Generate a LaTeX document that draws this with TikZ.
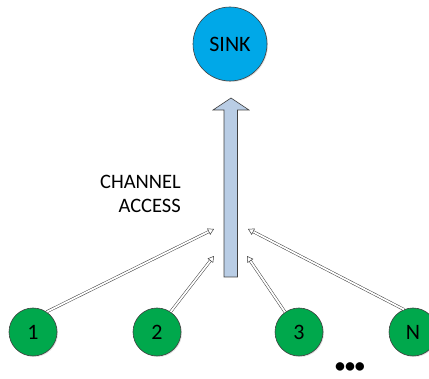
\documentclass[tikz,border=0pt]{standalone}
\usepackage{fontspec}
\setmainfont{Carlito}
\usetikzlibrary{arrows.meta,shadows}
\definecolor{sinkblue}{RGB}{0,168,232}
\definecolor{nodegreen}{RGB}{0,168,76}
\definecolor{shaftblue}{RGB}{185,205,229}
\definecolor{edgegray}{RGB}{64,64,64}
\begin{document}
\begin{tikzpicture}[x=1pt,y=-1pt,
  sinknode/.style={circle, draw=edgegray, line width=0.6pt, fill=sinkblue, minimum size=74pt, inner sep=0pt, font=\fontsize{22}{24}\selectfont,
    drop shadow={opacity=0.25, shadow xshift=1pt, shadow yshift=-1pt}},
  srcnode/.style={circle, draw=edgegray, line width=0.6pt, fill=nodegreen, minimum size=48pt, inner sep=0pt, font=\fontsize{22}{24}\selectfont,
    drop shadow={opacity=0.25, shadow xshift=1pt, shadow yshift=-1pt}},
  access/.style={draw=edgegray, line width=0.5pt, double=white, double distance=1.8pt, -{Stealth[open, length=6pt, width=7pt, inset=0pt]}},
  label/.style={font=\fontsize{20.5}{24}\selectfont, align=right}
]
\useasboundingbox (0,0) rectangle (429,379);
\node[sinknode] (sink) at (230,44) {SINK};
% channel arrow
\coordinate (tip) at (231,98);
\filldraw[fill=shaftblue, draw=edgegray, line width=0.6pt]
  (tip) -- (249,110) -- (237.5,110) -- (237.5,277) -- (224,277) -- (224,110) -- (213,110) -- cycle;
\node[label, anchor=north east, inner sep=0pt] (ca) at (181,175) {CHANNEL\\ACCESS};
\node[srcnode] (n1) at (33,332) {1};
\node[srcnode] (n2) at (157,332) {2};
\node[srcnode] (n3) at (299,332) {3};
\node[srcnode] (nN) at (413,332) {N};
\node[font=\fontsize{20}{20}\selectfont\bfseries, inner sep=0pt, text height=7pt, text depth=0pt] (dots) at (350,369.5) {•••};
\coordinate (a1) at (214,229);
\coordinate (a2) at (214,256);
\coordinate (a3) at (247,256);
\coordinate (a4) at (248,229);
\draw[access] (n1.56) -- (a1);
\draw[access] (n2.56) -- (a2);
\draw[access] (n3.125) -- (a3);
\draw[access] (nN.112) -- (a4);
\end{tikzpicture}
\end{document}
